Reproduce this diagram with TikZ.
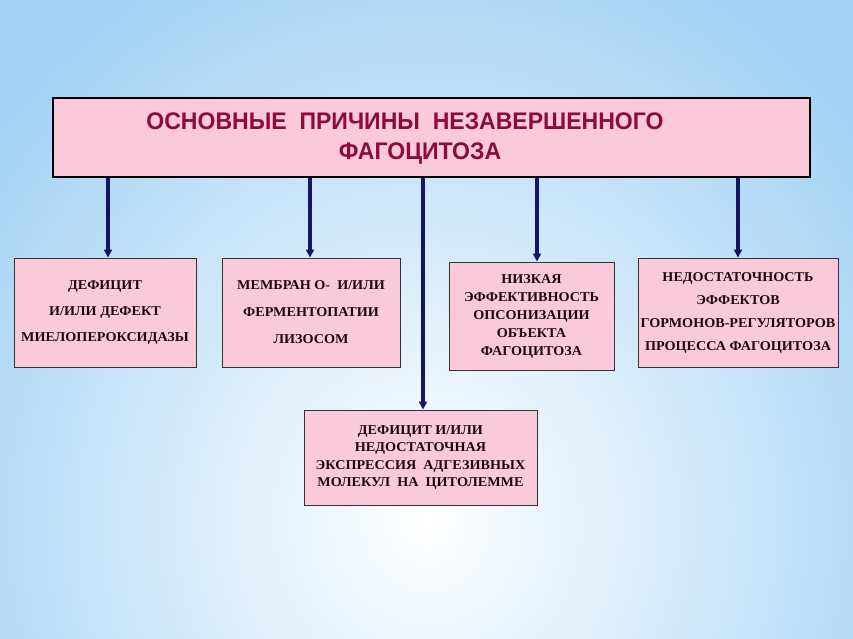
\documentclass[tikz,border=0pt]{standalone}
\usepackage{fontspec}
\setmainfont{Liberation Serif}
\newfontfamily\titlefont[FakeStretch=0.96]{Liberation Sans}
\newfontfamily\boxfont[FakeStretch=1.05]{Liberation Serif}
\usetikzlibrary{arrows.meta,positioning}

\definecolor{bgblue}{RGB}{163,210,245}
\definecolor{boxpink}{RGB}{250,202,218}
\definecolor{titlered}{RGB}{140,10,60}
\definecolor{arrownavy}{RGB}{20,20,105}
\definecolor{boxtext}{RGB}{30,5,15}

\begin{document}
\begin{tikzpicture}[x=1pt,y=-1pt,
    cause/.style={draw=black!80,line width=0.9pt,fill=boxpink,align=center,text=boxtext,inner sep=0pt},
    lines/.style={font=\boxfont\bfseries\fontsize{13.5}{#1}\selectfont},
    arrow/.style={-{Triangle[length=8pt,width=8pt]},line width=3.2pt,arrownavy}]
    % Háttér
    \useasboundingbox (0,0) rectangle (853,639);
    \begin{scope}
        \clip (0,0) rectangle (853,639);
        \shade[inner color=white,outer color=bgblue] (-130,-90) rectangle (983,1130);
    \end{scope}

    % Fő doboz
    \node[draw=black,line width=2.6pt,fill=boxpink,minimum width=757,minimum height=79,inner sep=0pt] (title) at (431.5,137.5) {};
    \node[font=\titlefont\bfseries\fontsize{24}{30}\selectfont,text=titlered,align=center] (titletext) at (405,139)
        {ОСНОВНЫЕ\ \ ПРИЧИНЫ\ \ НЕЗАВЕРШЕННОГО\\\hspace*{30pt}ФАГОЦИТОЗА};

    % Okok
    \node[cause,lines=26,minimum width=182,minimum height=109] (c1) at (105,312.5)
        {ДЕФИЦИТ\\И/ИЛИ ДЕФЕКТ\\МИЕЛОПЕРОКСИДАЗЫ};
    \node[cause,lines=27,minimum width=178,minimum height=109] (c2) at (311,312.5)
        {МЕМБРАН О-\ \ И/ИЛИ\\ФЕРМЕНТОПАТИИ\\ЛИЗОСОМ};
    \node[cause,lines=18,minimum width=165,minimum height=108,yshift=-4] (c3) at (531.5,312)
        {НИЗКАЯ\\ЭФФЕКТИВНОСТЬ\\ОПСОНИЗАЦИИ\\ОБЪЕКТА\\ФАГОЦИТОЗА};
    \node[cause,lines=23,minimum width=200,minimum height=109] (c4) at (738,312.5)
        {НЕДОСТАТОЧНОСТЬ\\ЭФФЕКТОВ\\ГОРМОНОВ-РЕГУЛЯТОРОВ\\ПРОЦЕССА ФАГОЦИТОЗА};
    \node[cause,lines=17.5,minimum width=233,minimum height=95] (c5) at (420.5,457.5)
        {ДЕФИЦИТ И/ИЛИ\\НЕДОСТАТОЧНАЯ\\ЭКСПРЕССИЯ\ \ АДГЕЗИВНЫХ\\МОЛЕКУЛ\ \ НА\ \ ЦИТОЛЕММЕ};

    % Nyilak
    \coordinate (a1) at (108,0);
    \coordinate (a2) at (310,0);
    \coordinate (a5) at (423,0);
    \coordinate (a3) at (537,0);
    \coordinate (a4) at (738,0);
    \draw[arrow] (title.south -| a1) -- (c1.north -| a1);
    \draw[arrow] (title.south -| a2) -- (c2.north -| a2);
    \draw[arrow] (title.south -| a5) -- (c5.north -| a5);
    \draw[arrow] (title.south -| a3) -- (c3.north -| a3);
    \draw[arrow] (title.south -| a4) -- (c4.north -| a4);
\end{tikzpicture}
\end{document}
